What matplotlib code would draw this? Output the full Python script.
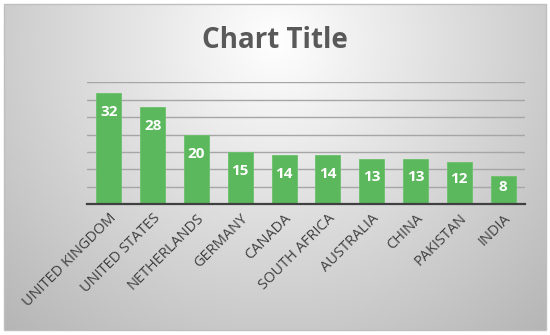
import numpy as np
import matplotlib
matplotlib.use("Agg")
import matplotlib.pyplot as plt
from matplotlib.patches import Rectangle

# %% data
countries = ["UNITED KINGDOM", "UNITED STATES", "NETHERLANDS", "GERMANY", "CANADA",
             "SOUTH AFRICA", "AUSTRALIA", "CHINA", "PAKISTAN", "INDIA"]
values = [32, 28, 20, 15, 14, 14, 13, 13, 12, 8]
y_ticks = [0, 5, 10, 15, 20, 25, 30, 35]

plt.rcParams['font.family'] = ['Open Sans', 'DejaVu Sans']

# %% figure + gradient background
fig = plt.figure(figsize=(5.5, 3.35), dpi=100)
fig.patch.set_facecolor("white")

bg = fig.add_axes([0, 0, 1, 1])
bg.set_xlim(0, 550)
bg.set_ylim(335, 0)
bg.axis("off")
xx, yy = np.meshgrid(np.linspace(4, 546, 300), np.linspace(4, 330, 200))
r = np.sqrt(((xx - 275) / 330) ** 2 + ((yy - 40) / 330) ** 2)
shade = np.clip(1.0 - 0.24 * r, 0, 1)
bg.imshow(np.dstack([shade, shade, shade]), extent=[4, 546, 330, 4], aspect="auto", zorder=0)
bg.add_patch(Rectangle((4, 4), 542, 326, fill=False, edgecolor="#bfbfbf", lw=1, zorder=1))

bg.text(275, 41, "Chart Title", ha="center", va="center", fontsize=20,
        fontweight="bold", color="#595959")

# %% bars
ax = fig.add_axes([87 / 550, (335 - 204) / 335, 438 / 550, 121.5 / 335])
ax.set_facecolor("none")
x = np.arange(len(countries))
bars = ax.bar(x, values, width=0.57, color="#5cb85c", edgecolor="#6cc06c", lw=0.6, zorder=3)

for xi, v in zip(x, values):
    off = min(5.5, v * 0.4)
    ax.text(xi, v - off, str(v), ha="center", va="center", color="white",
            fontsize=11, fontweight="bold", zorder=4)

ax.set_xlim(-0.5, len(countries) - 0.5)
ax.set_ylim(0, 35)
ax.set_yticks(y_ticks)
ax.yaxis.grid(True, color="#a6a6a6", lw=1, zorder=1)
ax.tick_params(axis="y", length=0, labelleft=False)
ax.tick_params(axis="x", length=0, pad=5)
ax.set_xticks(x)
ax.set_xticklabels(countries, rotation=45, ha="right", rotation_mode="anchor",
                   fontsize=10.5, color="#404040")
for s in ["left", "right", "top"]:
    ax.spines[s].set_visible(False)
ax.spines["bottom"].set_color("#404040")
ax.spines["bottom"].set_linewidth(1.6)
ax.spines["bottom"].set_zorder(5)

plt.savefig("out.png", dpi=100)
